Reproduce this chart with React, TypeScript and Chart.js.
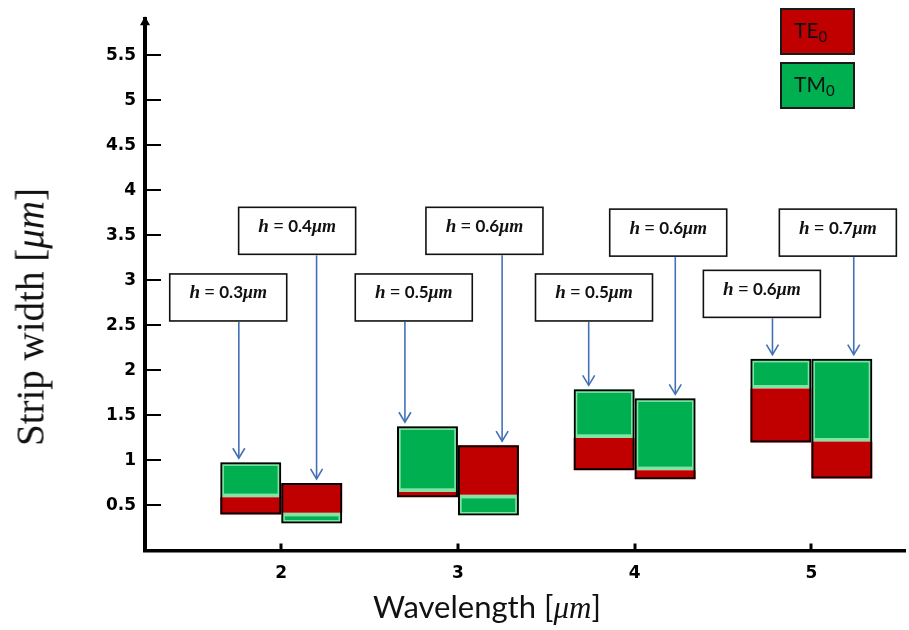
import React, { useEffect, useRef } from "react";
import { Chart, registerables } from "chart.js";

Chart.register(...registerables);

// ---------------- data ----------------
const wavelengths = [2, 3, 4, 5];
const xTickValues = [2, 3, 4, 5];
const yTickValues = [0.5, 1, 1.5, 2, 2.5, 3, 3.5, 4, 4.5, 5, 5.5];

// strip-width ranges [min, max] in µm — left box (first slab thickness h)
const teLeft = [[0.4, 0.59], [0.59, 0.65], [0.89, 1.25], [1.2, 1.8]];
const tmLeft = [[0.59, 0.98], [0.65, 1.38], [1.25, 1.79], [1.8, 2.13]];
// right box (second slab thickness h)
const teRight = [[0.42, 0.75], [0.62, 1.17], [0.79, 0.89], [0.8, 1.21]];
const tmRight = [[0.3, 0.42], [0.39, 0.62], [0.89, 1.69], [1.21, 2.13]];

const hLeft = ["0.3", "0.5", "0.5", "0.6"];
const hRight = ["0.4", "0.6", "0.6", "0.7"];

const xTitle = "Wavelength";
const yTitle = "Strip width";
const unit = "μm";
const legendNames = ["TE", "TM"];

// ---------------- annotation layout (data units) ----------------
const annotationLayout = {
  labelLeftX: [1.7, 2.75, 3.77, 4.72],
  labelRightX: [2.09, 3.15, 4.19, 5.15],
  arrowLeftX: [1.76, 2.7, 3.74, 4.78],
  arrowRightX: [2.2, 3.25, 4.23, 5.24],
  labelLeftY: [2.81, 2.81, 2.81, 2.85],
  labelRightY: [3.55, 3.55, 3.53, 3.53],
};

const RED = "#c00000";
const GREEN = "#00b050";
const LIGHT_GREEN = "#7de6a2";
const ARROW = "#4271b6";

function drawHLabel(ctx: CanvasRenderingContext2D, cx: number, baseline: number, h: string) {
  const parts = [
    { t: "h", f: 'italic bold 19px "Liberation Serif"' },
    { t: " = ", f: 'bold 18px "Liberation Serif"' },
    { t: h, f: 'bold 17px "Lato"' },
    { t: unit, f: 'italic bold 18px "Liberation Serif"' },
  ];
  let total = 0;
  const widths = parts.map((p) => {
    ctx.font = p.f;
    const w = ctx.measureText(p.t).width;
    total += w;
    return w;
  });
  let x = cx - total / 2;
  ctx.fillStyle = "#111";
  ctx.textAlign = "left";
  ctx.textBaseline = "alphabetic";
  parts.forEach((p, i) => {
    ctx.font = p.f;
    ctx.fillText(p.t, x, baseline);
    x += widths[i];
  });
}

const decorPlugin = {
  id: "decor",
  afterDatasetsDraw(chart: any) {
    const { ctx, chartArea } = chart;
    const xs = chart.scales.x;
    const ys = chart.scales.y;
    ctx.save();
    // y tick marks (inside)
    ctx.strokeStyle = "#000";
    ctx.lineWidth = 2;
    ys.ticks.forEach((t: any) => {
      const py = Math.round(ys.getPixelForValue(t.value));
      ctx.beginPath();
      ctx.moveTo(chartArea.left, py);
      ctx.lineTo(chartArea.left + 16, py);
      ctx.stroke();
    });
    // x tick marks (inside)
    ctx.lineWidth = 3;
    xs.ticks.forEach((t: any) => {
      const px = Math.round(xs.getPixelForValue(t.value));
      ctx.beginPath();
      ctx.moveTo(px, chartArea.bottom);
      ctx.lineTo(px, chartArea.bottom - 7);
      ctx.stroke();
    });
    // arrow head on y axis
    ctx.fillStyle = "#000";
    ctx.beginPath();
    ctx.moveTo(chartArea.left, chartArea.top - 3);
    ctx.lineTo(chartArea.left - 5, chartArea.top + 6);
    ctx.lineTo(chartArea.left + 5, chartArea.top + 6);
    ctx.closePath();
    ctx.fill();

    // h annotations
    const boxW = 117;
    const boxH = 47;
    const drawSet = (labels: string[], lx: number[], ly: number[], ax: number[], a: number[][], b: number[][]) => {
      labels.forEach((h, i) => {
        const cx = xs.getPixelForValue(lx[i]);
        const cy = ys.getPixelForValue(ly[i]);
        const left = cx - boxW / 2;
        const top = cy - boxH / 2;
        ctx.fillStyle = "#fff";
        ctx.fillRect(left, top, boxW, boxH);
        ctx.strokeStyle = "#111";
        ctx.lineWidth = 1.6;
        ctx.strokeRect(left, top, boxW, boxH);
        drawHLabel(ctx, cx, cy + 1, h);
        // arrow
        const px = xs.getPixelForValue(ax[i]);
        const barTop = Math.max(a[i][1], b[i][1]);
        const tipY = ys.getPixelForValue(barTop) - 4;
        ctx.strokeStyle = ARROW;
        ctx.lineWidth = 1.6;
        ctx.beginPath();
        ctx.moveTo(px, top + boxH + 1);
        ctx.lineTo(px, tipY);
        ctx.stroke();
        ctx.beginPath();
        ctx.moveTo(px - 6, tipY - 10);
        ctx.lineTo(px, tipY);
        ctx.lineTo(px + 6, tipY - 10);
        ctx.stroke();
      });
    };
    const L = annotationLayout;
    drawSet(hLeft, L.labelLeftX, L.labelLeftY, L.arrowLeftX, teLeft, tmLeft);
    drawSet(hRight, L.labelRightX, L.labelRightY, L.arrowRightX, teRight, tmRight);
    ctx.restore();
  },
};

export default function App() {
  const canvasRef = useRef<HTMLCanvasElement>(null);

  useEffect(() => {
    const canvas = canvasRef.current;
    if (!canvas) return;
    const envelope = (a: number[][], b: number[][]) =>
      wavelengths.map((_, i) => [Math.min(a[i][0], b[i][0]), Math.max(a[i][1], b[i][1])]);
    const pts = (r: number[][]) => wavelengths.map((w, i) => ({ x: w, y: r[i] }));
    const common = { categoryPercentage: 0.69, barPercentage: 1, grouped: true };
    const tickFont = { family: '"DejaVu Sans", sans-serif', weight: "bold" as const, size: 17 };

    const chart = new Chart(canvas, {
      type: "bar",
      data: {
        datasets: [
          { label: "box-left", data: pts(envelope(teLeft, tmLeft)), stack: "L", order: 0, backgroundColor: "rgba(0,0,0,0)", borderColor: "#000", borderWidth: 2, borderSkipped: false, ...common } as any,
          { label: "box-right", data: pts(envelope(teRight, tmRight)), stack: "R", order: 0, backgroundColor: "rgba(0,0,0,0)", borderColor: "#000", borderWidth: 2, borderSkipped: false, ...common } as any,
          { label: "TE0 left", data: pts(teLeft), stack: "L", order: 1, backgroundColor: RED, borderWidth: 0, ...common } as any,
          { label: "TM0 left", data: pts(tmLeft), stack: "L", order: 1, backgroundColor: GREEN, borderColor: LIGHT_GREEN, borderWidth: 3.5, borderSkipped: false, ...common } as any,
          { label: "TE0 right", data: pts(teRight), stack: "R", order: 1, backgroundColor: RED, borderWidth: 0, ...common } as any,
          { label: "TM0 right", data: pts(tmRight), stack: "R", order: 1, backgroundColor: GREEN, borderColor: LIGHT_GREEN, borderWidth: 3.5, borderSkipped: false, ...common } as any,
        ],
      },
      options: {
        responsive: false,
        animation: false,
        layout: { padding: { top: 14, right: 4, left: 0, bottom: 0 } },
        plugins: { legend: { display: false }, tooltip: { enabled: false } },
        scales: {
          x: {
            type: "linear",
            min: 1.229,
            max: 5.53,
            offset: false,
            grid: { display: false, drawTicks: false, offset: false },
            border: { display: true, color: "#000", width: 3.5 },
            ticks: { font: tickFont, color: "#000", padding: 13, callback: (v: any) => String(v) },
            afterBuildTicks: (s: any) => {
              s.ticks = xTickValues.map((v) => ({ value: v }));
            },
            afterFit: (s: any) => {
              s.height = 79.5;
            },
          },
          y: {
            type: "linear",
            min: 0,
            max: 5.9,
            stacked: false,
            grid: { display: false, drawTicks: false },
            border: { display: true, color: "#000", width: 4 },
            ticks: { font: tickFont, color: "#000", padding: 9, callback: (v: any) => String(v) },
            afterBuildTicks: (s: any) => {
              s.ticks = yTickValues.map((v) => ({ value: v }));
            },
            afterFit: (s: any) => {
              s.width = 145;
            },
          },
        } as any,
      },
      plugins: [decorPlugin],
    });
    return () => chart.destroy();
  }, []);

  const legendBox = (bg: string, top: number, name: string) => (
    <div
      style={{
        position: "absolute",
        left: 780,
        top,
        width: 75,
        height: 47,
        background: bg,
        border: "2px solid #1a1a1a",
        boxSizing: "border-box",
      }}
    >
      <span
        style={{
          position: "absolute",
          left: 12,
          top: 9,
          fontFamily: '"Lato", sans-serif',
          fontSize: 21,
          lineHeight: 1,
          color: "#111",
          whiteSpace: "nowrap",
        }}
      >
        {name}
        <sub style={{ fontSize: 15, verticalAlign: "-4px" }}>0</sub>
      </span>
    </div>
  );

  return (
    <div style={{ position: "fixed", left: 0, top: 0, width: 909, height: 630, background: "#fff", overflow: "hidden" }}>
      <canvas ref={canvasRef} width={909} height={630} style={{ position: "absolute", left: 0, top: 0 }} />
      <div
        style={{
          position: "absolute",
          left: 30,
          top: 317,
          transform: "translate(-50%, -50%) rotate(-90deg)",
          whiteSpace: "nowrap",
          fontFamily: '"Liberation Serif", serif',
          fontSize: 39,
          lineHeight: 1,
          color: "#111",
        }}
      >
        {yTitle} [<i>{unit}</i>]
      </div>
      <div
        style={{
          position: "absolute",
          left: 487,
          top: 607,
          transform: "translate(-50%, -50%)",
          whiteSpace: "nowrap",
          fontFamily: '"Lato", sans-serif',
          fontSize: 31,
          lineHeight: 1,
          color: "#111",
        }}
      >
        {xTitle} [<i style={{ fontFamily: '"Liberation Serif", serif' }}>{unit}</i>]
      </div>
      {legendBox(RED, 8, legendNames[0])}
      {legendBox(GREEN, 62, legendNames[1])}
    </div>
  );
}
